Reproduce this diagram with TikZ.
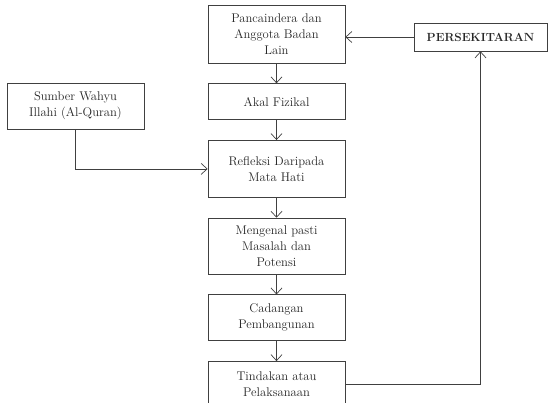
\documentclass[tikz,border=0pt]{standalone}
\usetikzlibrary{arrows.meta,chains,positioning}

\begin{document}
\begin{tikzpicture}[x=1pt, y=-1pt, line width=0.7pt,
    box/.style={rectangle, draw=black!75, align=center, minimum width=137pt, inner sep=3pt, text=black!85, font=\fontsize{12.6}{16}\selectfont},
    >={Straight Barb[length=6pt,width=11pt]},
    start chain=going below, node distance=20pt,
    every join/.style={->, draw=black!75}]

    \useasboundingbox (0,0) rectangle (548,403);

    \node[box,on chain,minimum height=58pt] (panca) at (276.5,34) {Pancaindera dan\\Anggota Badan\\Lain};
    \node[box,on chain,join,minimum height=36pt] (akal) {Akal Fizikal};
    \node[box,on chain,join,minimum height=57pt] (refleksi) {Refleksi Daripada\\Mata Hati};
    \node[box,on chain,join,minimum height=56pt] (kenal) {Mengenal pasti\\Masalah dan\\Potensi};
    \node[box,on chain,join,minimum height=46pt] (cadangan) {Cadangan\\Pembangunan};
    \node[box,on chain,join,minimum height=46pt] (tindakan) {Tindakan atau\\Pelaksanaan};

    \node[box,minimum height=46pt] (sumber) at (75.5,106) {Sumber Wahyu\\Illahi (Al-Quran)};

    \node[box,minimum width=133pt,minimum height=28pt,font=\bfseries\fontsize{11.8}{13}\selectfont] (persek) at (480.5,37) {PERSEKITARAN};

    \draw[->,black!75] (persek.west) -- (persek.west -| panca.east);
    \draw[->,black!75] (sumber.south) |- (refleksi.west);
    \draw[->,black!75] (tindakan.east) -| (persek.south);

\end{tikzpicture}
\end{document}
